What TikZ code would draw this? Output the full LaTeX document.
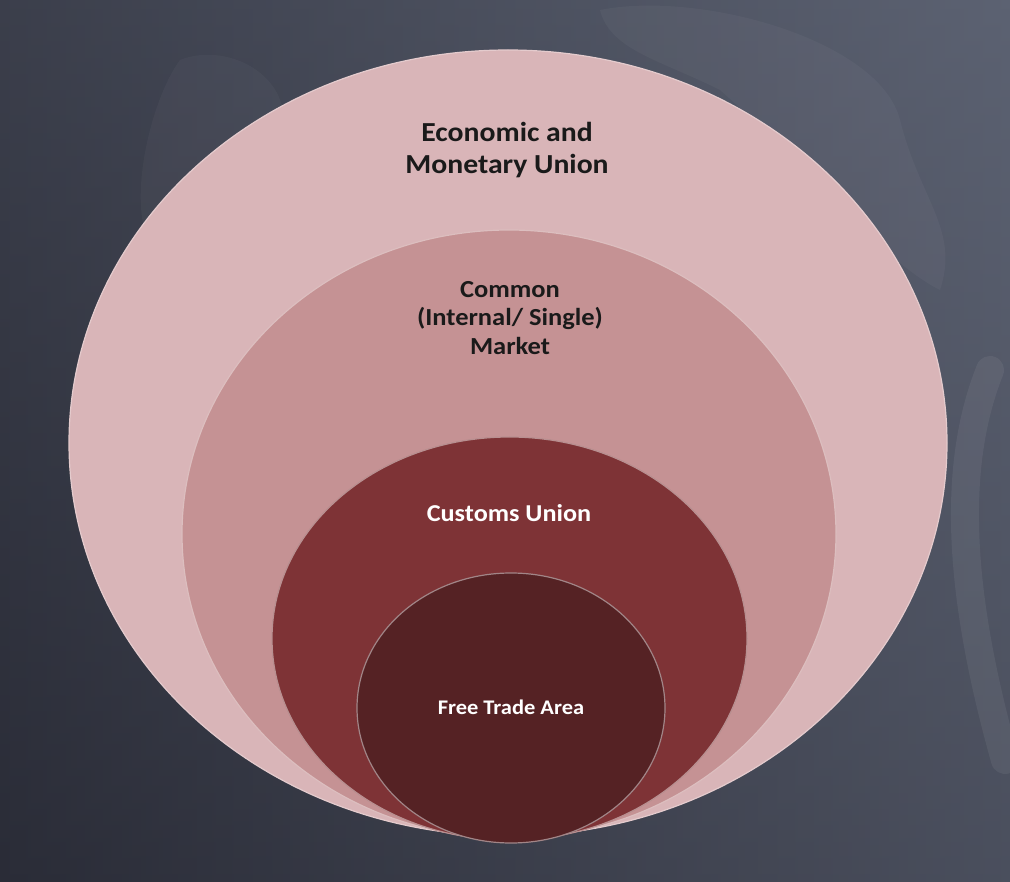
\documentclass[tikz,border=0pt]{standalone}
\usepackage{fontspec}
\setmainfont{Carlito}[FakeStretch=1.08]
\usetikzlibrary{shapes.geometric}
\definecolor{bgL}{HTML}{2A2C37}
\definecolor{bgR}{HTML}{5C6272}
\definecolor{ringA}{HTML}{D9B5B8}
\definecolor{ringB}{HTML}{C59294}
\definecolor{ringC}{HTML}{7E3336}
\definecolor{ringD}{HTML}{552224}
\definecolor{txtdark}{HTML}{1A1A1A}
\tikzset{
  ring/.style={ellipse, inner sep=0pt, line width=1.2pt},
  lbl/.style={font=\bfseries, align=center, inner sep=0pt}
}
\begin{document}
\begin{tikzpicture}[x=1pt,y=-1pt]
\useasboundingbox (0,0) rectangle (1010,882);
\shade[left color=bgL, right color=bgR] (0,0) rectangle (1010,882);
\shade[top color=bgR, bottom color=bgL, opacity=0.35] (0,0) rectangle (1010,882);
% faint background shapes
\draw[white, opacity=0.06, line width=28pt, line cap=round] (990,370) .. controls (950,470) and (960,600) .. (1005,760);
\fill[white, opacity=0.035] (600,10) .. controls (700,-10) and (880,40) .. (900,120) .. controls (920,200) and (960,230) .. (940,290) .. controls (880,260) and (800,160) .. (720,90) .. controls (660,60) and (610,50) .. cycle;
\fill[white, opacity=0.03] (180,60) .. controls (230,40) and (300,80) .. (280,140) .. controls (260,190) and (200,230) .. (160,260) .. controls (120,220) and (150,100) .. cycle;
% rings
\node[ring, fill=ringA, draw=ringA!70!white, minimum width=878pt, minimum height=786pt] (emu) at (508,443) {};
\node[ring, fill=ringB, draw=ringB!60!white, minimum width=654pt, minimum height=608pt] (cm) at (509,534) {};
\node[ring, fill=ringC, draw=ringC!55!white, minimum width=475pt, minimum height=403pt] (cu) at (509.5,638.5) {};
\node[ring, fill=ringD, draw=ringD!55!white, minimum width=308pt, minimum height=270pt] (fta) at (511,708) {};
% labels
\node[lbl, text=txtdark, font=\bfseries\fontsize{27.5}{32}\selectfont] (emuT) at (507,150) {Economic and\\Monetary Union};
\node[lbl, text=txtdark, font=\bfseries\fontsize{24.5}{28.5}\selectfont] (cmT) at (510,318) {Common\\(Internal/ Single)\\Market};
\node[lbl, text=white, font=\bfseries\fontsize{24.25}{28}\selectfont] (cuT) at (509,513) {Customs Union};
\node[lbl, text=white, font=\bfseries\fontsize{20.8}{24}\selectfont] (ftaT) at (511,707) {Free Trade Area};
\end{tikzpicture}
\end{document}
